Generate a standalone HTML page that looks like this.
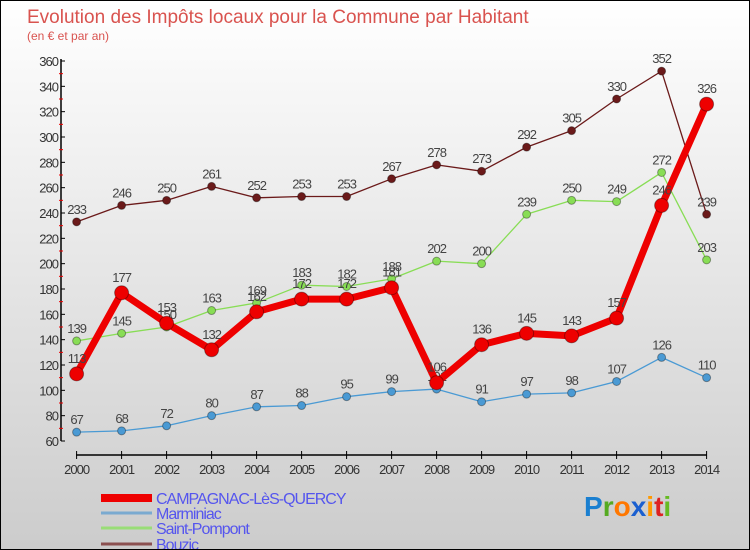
<!DOCTYPE html>
<html><head><meta charset="utf-8"><style>
body{margin:0}
#c{position:relative;width:750px;height:550px;box-sizing:border-box;border:1px solid #000;background:linear-gradient(#fff,#ccc);font-family:"Liberation Sans",sans-serif;overflow:hidden}
svg{position:absolute;left:0;top:0}
</style></head><body>
<div id="c">
<svg id="s" width="750" height="550">
<text x="26" y="22" font-size="19" fill="#d9534f">Evolution des Impôts locaux pour la Commune par Habitant</text>
<text x="26" y="39" font-size="12" fill="#d9534f">(en € et par an)</text>
</svg>
</div>
<script>
const years=[2000,2001,2002,2003,2004,2005,2006,2007,2008,2009,2010,2011,2012,2013,2014];
const campagnac=[113,177,153,132,162,172,172,181,106,136,145,143,157,246,326];
const marminiac=[67,68,72,80,87,88,95,99,101,91,97,98,107,126,110];
const pompont=[139,145,150,163,169,183,182,188,202,200,239,250,249,272,203];
const bouzic=[233,246,250,261,252,253,253,267,278,273,292,305,330,352,239];
const yTicks=[60,80,100,120,140,160,180,200,220,240,260,280,300,320,340,360];
const s=document.getElementById('s');const NS='http://www.w3.org/2000/svg';
const X=i=>75.6+i*45;const Y=v=>440-(v-60)*380/300;
function el(t,a,p){const e=document.createElementNS(NS,t);for(const k in a)e.setAttribute(k,a[k]);(p||s).appendChild(e);return e;}
let e=el('line',{x1:60,y1:58,x2:60,y2:440,stroke:'#000','stroke-width':1.5});


e=el('line',{x1:75,y1:454,x2:706,y2:454,stroke:'#000','stroke-width':1.5});


yTicks.forEach(v=>{const y=Y(v);el('line',{x1:60,y1:y,x2:64,y2:y,stroke:'#000'});
if(v<360)el('line',{x1:58,y1:Y(v+10),x2:62,y2:Y(v+10),stroke:'#e00'});
const t=el('text',{x:57,y:y+5,'font-size':13,fill:'#333','text-anchor':'end','letter-spacing':'-1'});t.textContent=v;

});
years.forEach((yr,i)=>{el('line',{x1:X(i),y1:450,x2:X(i),y2:458,stroke:'#000'});
const t=el('text',{x:X(i),y:473,'font-size':13,fill:'#333','text-anchor':'middle','letter-spacing':'-1'});t.textContent=yr;

});
function series(d,col,w,r,name){const g=el('g',{});


el('polyline',{points:d.map((v,i)=>X(i)+','+Y(v)).join(' '),fill:'none',stroke:col,'stroke-width':w,'stroke-linejoin':'round'},g);
d.forEach((v,i)=>{const c=el('circle',{cx:X(i),cy:Y(v),r:r,fill:col,stroke:'rgba(0,0,0,0.35)'},g);


const t=el('text',{x:X(i),y:Y(v)-r-4,'font-size':13,fill:'#444','text-anchor':'middle','letter-spacing':'-1'},g);t.textContent=v;

});}
series(marminiac,'#4a9ad4',1.3,4,'series-marminiac');
series(pompont,'#88dd55',1.3,4,'series-saint-pompont');
series(bouzic,'#6b1a1a',1.3,4,'series-bouzic');
series(campagnac,'#ee0000',7,7,'series-campagnac');
const leg=[['CAMPAGNAC-LèS-QUERCY','#ee0000',8,493],['Marminiac','#7aaad0',3,508],['Saint-Pompont','#99dd77',3,523],['Bouzic','#8b5050',3,539]];
leg.forEach(l=>{const g=el('g',{});


el('line',{x1:100,y1:l[3]+4,x2:151,y2:l[3]+4,stroke:l[1],'stroke-width':l[2]},g);
const t=el('text',{x:155,y:l[3]+10,'font-size':16,fill:'#5555ee','letter-spacing':'-1'},g);t.textContent=l[0];});
const p=el('text',{x:583,y:515,'font-size':28,'font-weight':'bold'});


[['P','#1a7fd0'],['r','#55aa22'],['o','#ff7700'],['x','#1a5fd0'],['i','#ff9900'],['t','#dd2222'],['i','#66bb22']].forEach(c=>{const ts=el('tspan',{fill:c[1]},p);ts.textContent=c[0];});
</script>
</body></html>
